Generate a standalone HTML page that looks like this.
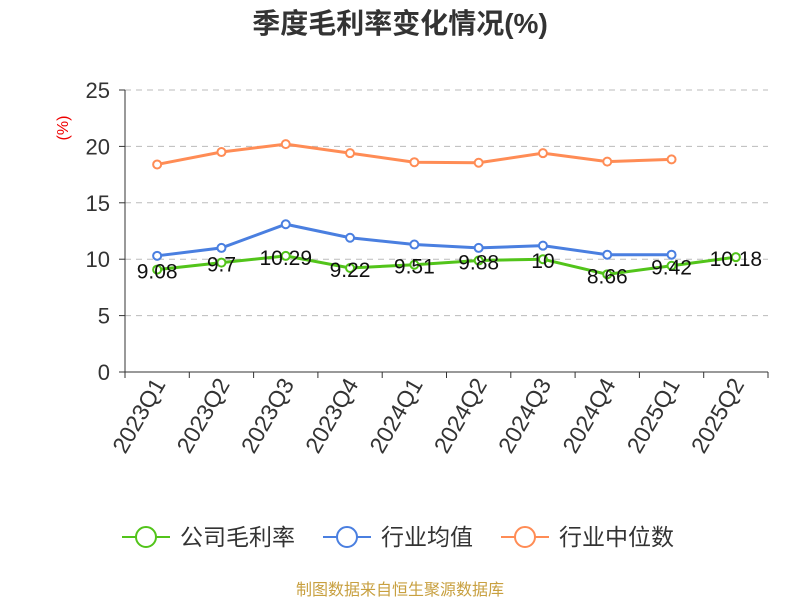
<!DOCTYPE html>
<html><head><meta charset="utf-8"><style>
body{margin:0;background:#fff;font-family:"Liberation Sans","Noto Sans CJK SC",sans-serif;}
</style></head><body>
<svg id="c" width="800" height="600" xmlns="http://www.w3.org/2000/svg" font-family="Liberation Sans, Noto Sans CJK SC, sans-serif">
<text x="400" y="33" text-anchor="middle" font-size="28" font-weight="bold" fill="#333">季度毛利率变化情况(%)</text>
<text x="0" y="0" transform="translate(68,128) rotate(-90)" text-anchor="middle" font-size="16" fill="#e00">(%)</text>
<g id="grid"></g><g id="axes"></g><g id="series"></g>
<g>
<g><line x1="122" y1="537" x2="170" y2="537" stroke="#52c41a" stroke-width="2"/><circle cx="146" cy="537" r="10" fill="#fff" stroke="#52c41a" stroke-width="2"/><text x="180" y="545" font-size="23" fill="#333">公司毛利率</text></g>
<g><line x1="323" y1="537" x2="371" y2="537" stroke="#4a7fe0" stroke-width="2"/><circle cx="347" cy="537" r="10" fill="#fff" stroke="#4a7fe0" stroke-width="2"/><text x="381" y="545" font-size="23" fill="#333">行业均值</text></g>
<g><line x1="501" y1="537" x2="549" y2="537" stroke="#ff8c55" stroke-width="2"/><circle cx="525" cy="537" r="10" fill="#fff" stroke="#ff8c55" stroke-width="2"/><text x="559" y="545" font-size="23" fill="#333">行业中位数</text></g>
</g>
<text x="400" y="595" text-anchor="middle" font-size="16" fill="#c8a040">制图数据来自恒生聚源数据库</text>
</svg>
<script>
const categories=["2023Q1","2023Q2","2023Q3","2023Q4","2024Q1","2024Q2","2024Q3","2024Q4","2025Q1","2025Q2"];
const companyValues=[9.08,9.7,10.29,9.22,9.51,9.88,10,8.66,9.42,10.18];
const industryAvg=[10.3,11.0,13.1,11.9,11.3,11.0,11.2,10.4,10.4];
const industryMedian=[18.4,19.5,20.2,19.4,18.6,18.55,19.4,18.65,18.85];
const yTicks=[0,5,10,15,20,25];
const NS="http://www.w3.org/2000/svg";
const x0=125,x1=768,y0=372,y1=90;
const bw=(x1-x0)/categories.length;
const X=i=>x0+bw*(i+0.5);
const Y=v=>y0-(v/25)*(y0-y1);
function mk(t,a,p){const e=document.createElementNS(NS,t);for(const k in a)e.setAttribute(k,a[k]);p.appendChild(e);return e;}
const grid=document.getElementById('grid'),axes=document.getElementById('axes'),ser=document.getElementById('series');
yTicks.forEach(v=>{
 if(v>0){const l=mk('line',{x1:x0,x2:x1,y1:Y(v),y2:Y(v),stroke:'#bbb','stroke-dasharray':'6,5'},grid);
 
 }
 const tk=mk('line',{x1:x0-6,x2:x0,y1:Y(v),y2:Y(v),stroke:'#333'},axes);
 
 
 const t=mk('text',{x:x0-15,y:Y(v)+8,'text-anchor':'end','font-size':22,fill:'#333'},axes);t.textContent=v;
 
 
});
const ya=mk('line',{x1:x0,x2:x0,y1:y1,y2:y0,stroke:'#333'},axes);


const xa=mk('line',{x1:x0,x2:x1,y1:y0,y2:y0,stroke:'#333'},axes);


for(let i=0;i<=categories.length;i++){const l=mk('line',{x1:x0+bw*i,x2:x0+bw*i,y1:y0,y2:y0+6,stroke:'#333'},axes);
 
 }
categories.forEach((c,i)=>{const t=mk('text',{transform:`translate(${X(i)+9},${y0+12}) rotate(-60)`,'text-anchor':'end','font-size':23,fill:'#333'},axes);t.textContent=c;
 
 });
function series(vals,color,name,labels){
 const g=mk('g',{},ser);
 
 
 const p=mk('polyline',{points:vals.map((v,i)=>X(i)+','+Y(v)).join(' '),fill:'none',stroke:color,'stroke-width':3},g);
 
 
 vals.forEach((v,i)=>{const c=mk('circle',{cx:X(i),cy:Y(v),r:4,fill:'#fff',stroke:color,'stroke-width':2},g);
  
  
  if(labels){const t=mk('text',{x:X(i),y:Y(v)+9,'text-anchor':'middle','font-size':21,fill:'#111'},g);t.textContent=v;
  
  }});
}
series(industryMedian,'#ff8c55','industry-median-series',false);
series(industryAvg,'#4a7fe0','industry-avg-series',false);
series(companyValues,'#52c41a','company-series',true);
</script>
</body></html>
